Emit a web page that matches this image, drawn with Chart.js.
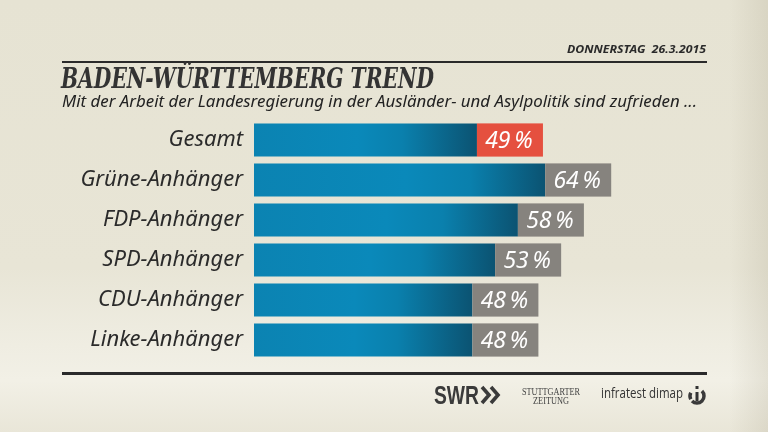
<!DOCTYPE html>
<html>
<head>
<meta charset="utf-8">
<script src="https://cdn.jsdelivr.net/npm/chart.js@4"></script>
<style>
  html, body { margin: 0; padding: 0; }
  body {
    width: 768px; height: 432px; overflow: hidden;
    background: linear-gradient(to bottom, #e6e3d3 0%, #e8e5d6 62%, #efede2 80%, #f2f0e6 88%, #e9e6d8 100%);
  }
  #wrap { position: relative; width: 768px; height: 432px; }
  #shade { position: absolute; left: 0; top: 0; width: 768px; height: 432px;
    background: linear-gradient(to right, rgba(0,0,0,0) 0%, rgba(0,0,0,0) 95%, rgba(120,110,80,0.12) 100%); }
  canvas { position: absolute; left: 0; top: 0; }
</style>
</head>
<body>
<div id="wrap">
  <div id="shade"></div>
  <canvas id="myChart" width="768" height="432"></canvas>
</div>
<script>
const categories = ['Gesamt', 'Grüne-Anhänger', 'FDP-Anhänger', 'SPD-Anhänger', 'CDU-Anhänger', 'Linke-Anhänger'];
const values = [49, 64, 58, 53, 48, 48];
const dateText = 'DONNERSTAG  26.3.2015';
const titleText = 'BADEN-WÜRTTEMBERG TREND';
const subtitleText = 'Mit der Arbeit der Landesregierung in der Ausländer- und Asylpolitik sind zufrieden ...';

// draw text squeezed/stretched to a given width
function fitText(ctx, text, x, y, width) {
  const w = ctx.measureText(text).width;
  ctx.save();
  ctx.translate(x, y);
  ctx.scale(width / w, 1);
  ctx.fillText(text, 0, 0);
  ctx.restore();
}

function barGradient(c) {
  const chart = c.chart;
  const xs = chart.scales.x;
  if (!chart.chartArea || !xs) return '#0a84b2';
  const x0 = xs.getPixelForValue(0);
  const x1 = xs.getPixelForValue(c.raw);
  const g = chart.ctx.createLinearGradient(x0, 0, x1, 0);
  const t = Math.max(0, 1 - 75 / (x1 - x0));
  g.addColorStop(0, '#0b83b2');
  g.addColorStop(t * 0.7, '#0a89ba');
  g.addColorStop(t, '#0a80ad');
  g.addColorStop(1, '#0b5372');
  return g;
}

const decorations = {
  id: 'decorations',
  beforeDraw(chart) {
    const ctx = chart.ctx;
    ctx.save();
    ctx.fillStyle = '#2a2a2a';
    // date
    ctx.font = 'italic bold 11px "Noto Sans"';
    ctx.textAlign = 'left';
    ctx.textBaseline = 'alphabetic';
    fitText(ctx, dateText, 567, 53, 139);
    // rules
    ctx.fillRect(62, 61, 645, 2);
    ctx.fillRect(62, 372, 645, 3);
    // title + subtitle
    ctx.fillStyle = '#333';
    ctx.font = 'italic bold 28px "DejaVu Serif"';
    fitText(ctx, titleText, 61, 88, 373);
    ctx.fillStyle = '#222';
    ctx.font = 'italic 17px "Noto Sans"';
    fitText(ctx, subtitleText, 62, 107, 635);

    // footer logos
    ctx.fillStyle = '#3a3a3a';
    ctx.font = 'bold 26px "Liberation Sans"';
    fitText(ctx, 'SWR', 434, 404, 45);
    // chevrons
    ctx.lineWidth = 3.6;
    ctx.strokeStyle = '#3a3a3a';
    [482, 491].forEach(cx => {
      ctx.beginPath();
      ctx.moveTo(cx, 387); ctx.lineTo(cx + 7, 395); ctx.lineTo(cx, 403);
      ctx.stroke();
    });
    ctx.fillStyle = '#444';
    ctx.font = '9.5px "Liberation Serif"';
    fitText(ctx, 'STUTTGARTER', 522, 395, 58);
    fitText(ctx, 'ZEITUNG', 533, 404, 36);
    ctx.fillStyle = '#333';
    ctx.font = '15px "Open Sans"';
    fitText(ctx, 'infratest dimap', 601, 398, 82);
    // dimap icon
    ctx.lineWidth = 3.5;
    ctx.beginPath();
    ctx.arc(697, 396, 7, -Math.PI * 0.25, Math.PI * 0.75);
    ctx.stroke();
    ctx.beginPath();
    ctx.arc(697, 396, 7, Math.PI * 0.85, Math.PI * 1.15);
    ctx.stroke();
    ctx.fillRect(695.5, 392, 3, 9);
    ctx.fillRect(695.5, 386, 3, 3);
    ctx.restore();
  },
  afterDatasetsDraw(chart) {
    const ctx = chart.ctx;
    const meta = chart.getDatasetMeta(0);
    ctx.save();
    meta.data.forEach((bar, i) => {
      const p = bar.getProps(['x', 'y', 'height'], true);
      const top = p.y - p.height / 2;
      ctx.fillStyle = i === 0 ? '#e5503f' : '#86837e';
      ctx.fillRect(p.x, top, 66, p.height);
      ctx.fillStyle = '#ffffff';
      ctx.font = 'italic 23px "Noto Sans"';
      ctx.textAlign = 'center';
      ctx.textBaseline = 'middle';
      ctx.fillText(values[i] + '\u2009%', p.x + 32, p.y + 1);
    });
    ctx.restore();
  }
};

new Chart(document.getElementById('myChart'), {
  type: 'bar',
  data: {
    labels: categories,
    datasets: [{
      data: values,
      backgroundColor: barGradient,
      borderWidth: 0,
      barPercentage: 0.83,
      categoryPercentage: 1
    }]
  },
  options: {
    indexAxis: 'y',
    responsive: false,
    animation: false,
    layout: { padding: { left: 62, top: 120, right: 59, bottom: 72 } },
    plugins: { legend: { display: false }, tooltip: { enabled: false } },
    scales: {
      x: { display: false, min: 0, max: 100 },
      y: {
        grid: { display: false },
        border: { display: false },
        afterFit(scale) { scale.width = 192; },
        ticks: {
          padding: 3,
          color: '#2b2b2b',
          font: { family: 'Noto Sans', style: 'italic', size: 22 }
        }
      }
    }
  },
  plugins: [decorations]
});
</script>
</body>
</html>
